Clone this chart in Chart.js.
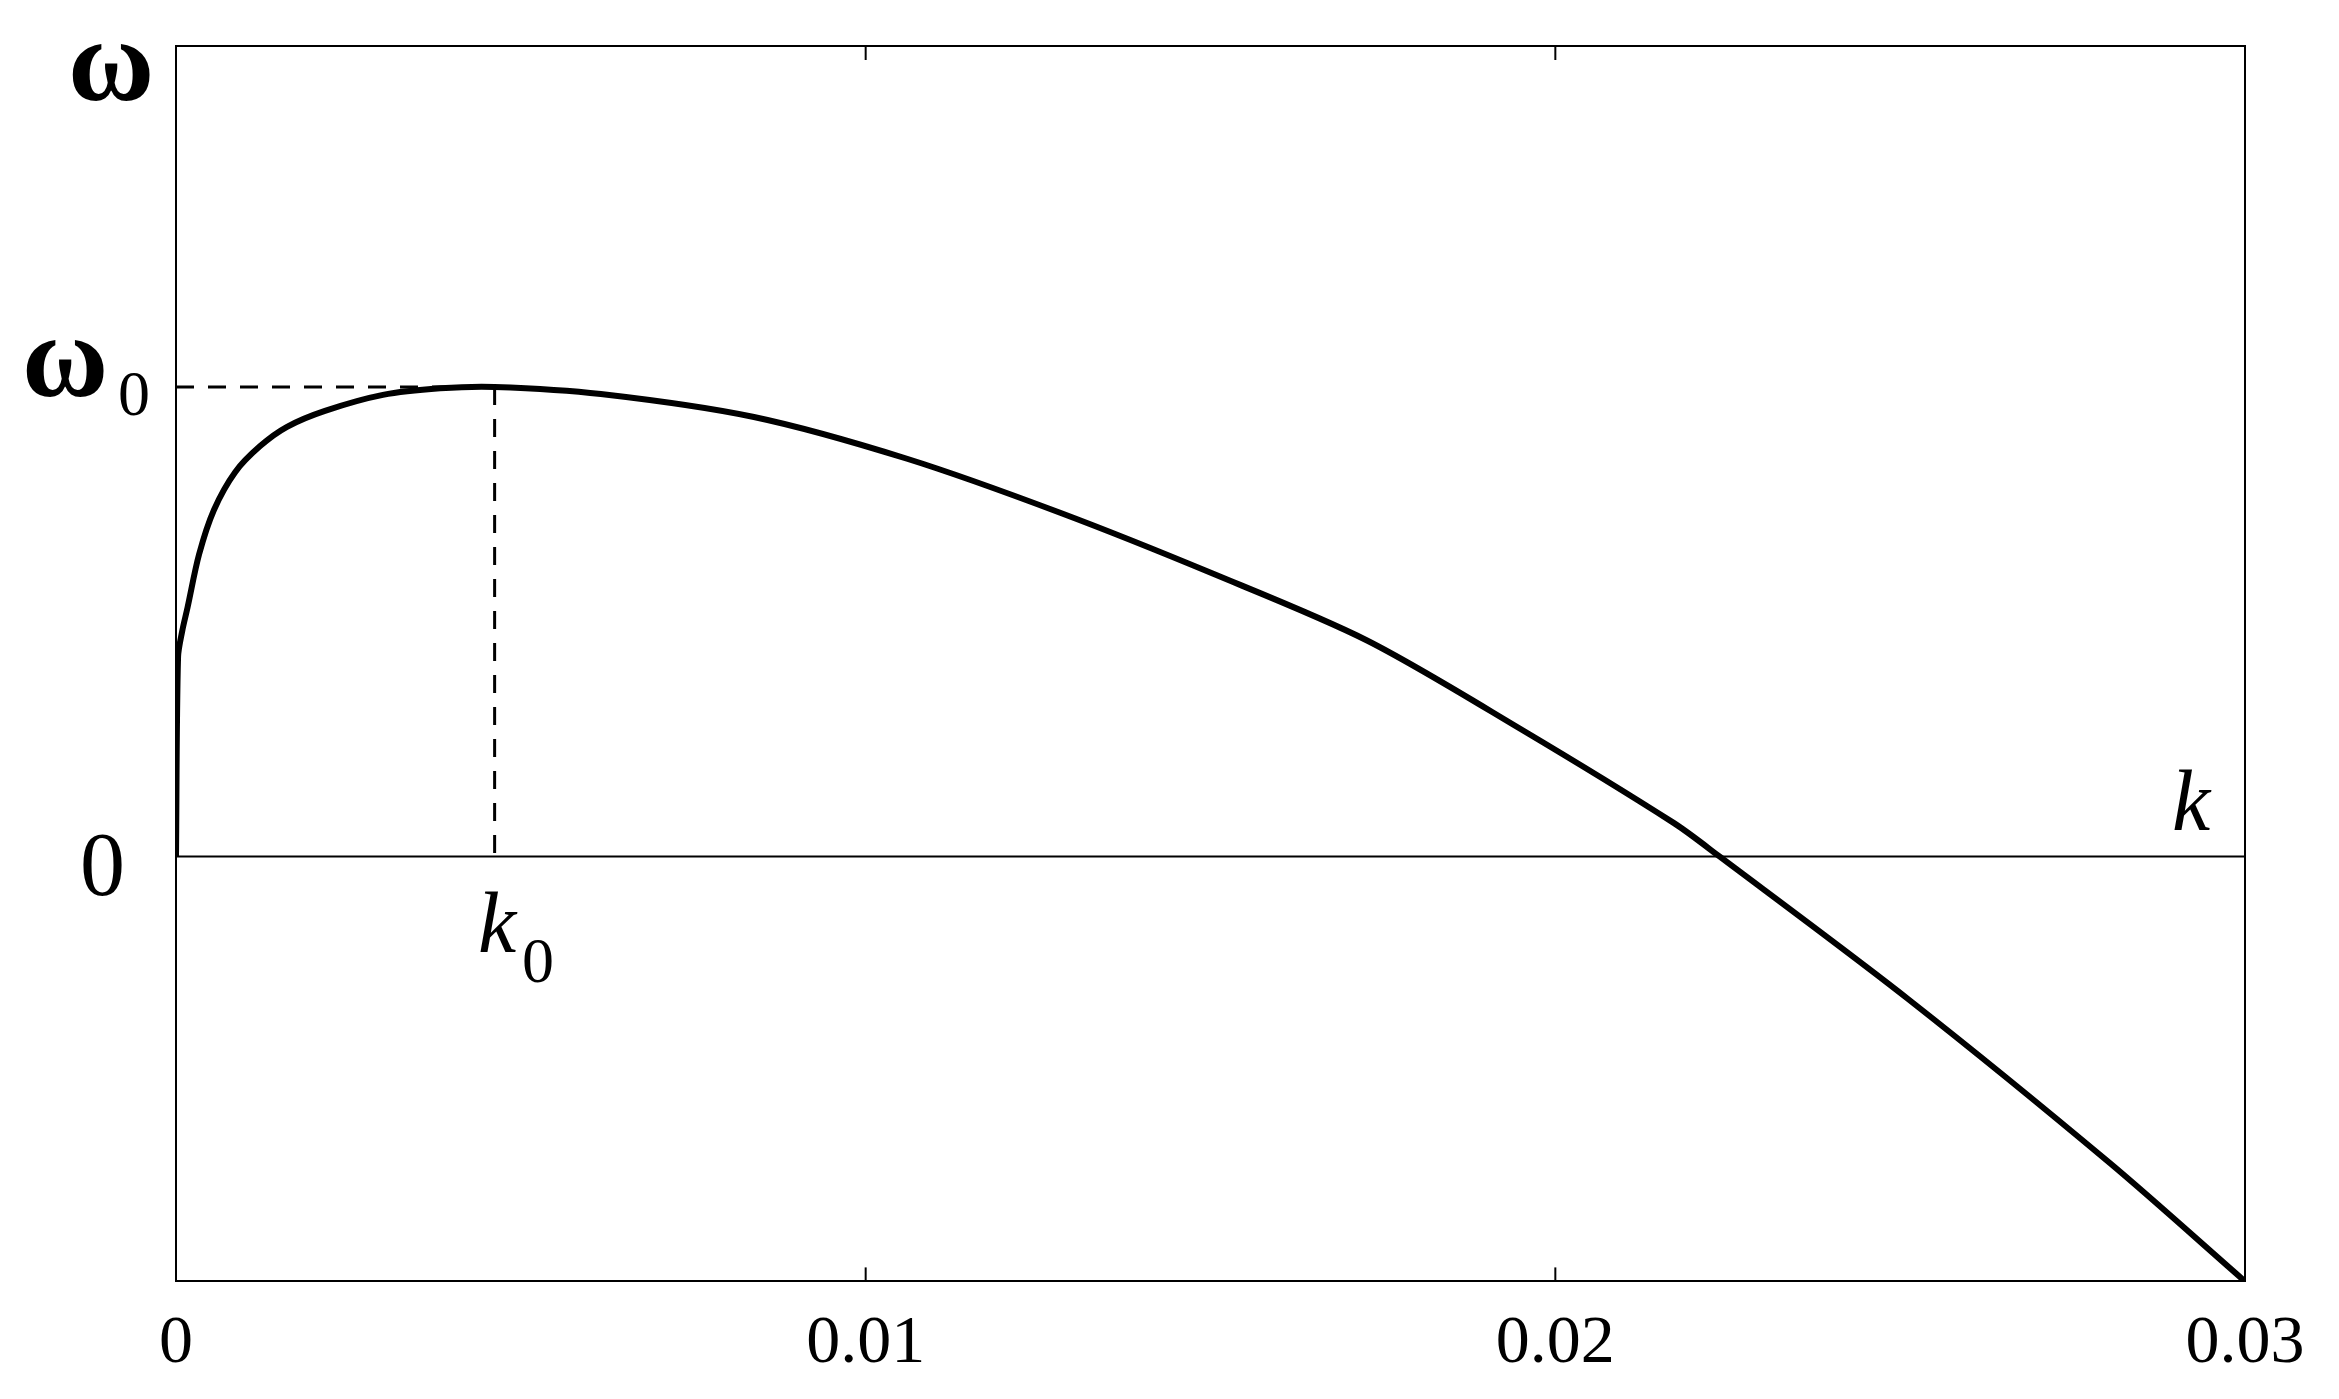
<!DOCTYPE html>
<html><head><meta charset="utf-8">
<script src="https://cdn.jsdelivr.net/npm/chart.js@4/dist/chart.umd.min.js"></script>
<style>html,body{margin:0;padding:0;background:#fff;}#w{position:relative;width:2339px;height:1399px;}</style>
</head><body><div id="w"><canvas id="c" width="2339" height="1399"></canvas></div>
<script>
const kValues = [0, 0.00003, 0.00009, 0.000167, 0.000334, 0.00055, 0.00086, 0.00122, 0.00161, 0.00216, 0.003, 0.00383, 0.00462, 0.00616, 0.00838, 0.0106, 0.01282, 0.01504, 0.01727, 0.01949, 0.02171, 0.02238, 0.0251, 0.02804, 0.03];
const omegaValues = [0, 0.425, 0.48, 0.53, 0.643, 0.738, 0.819, 0.874, 0.915, 0.949, 0.983, 0.997, 1.0, 0.985, 0.936, 0.847, 0.732, 0.602, 0.46, 0.272, 0.072, 0, -0.302, -0.653, -0.905];
const xTicks = [0, 0.01, 0.02, 0.03];
const xTickLabels = ['0', '0.01', '0.02', '0.03'];
const k0 = 0.00462, omega0 = 1.0;

const serif = '"Liberation Serif", "DejaVu Serif", serif';
const overlay = {
  id: 'overlay',
  afterDraw(chart) {
    const {ctx, scales: {x, y}, chartArea: a} = chart;
    ctx.save();
    ctx.strokeStyle = '#000';
    ctx.lineWidth = 2;
    ctx.beginPath(); ctx.moveTo(a.left, y.getPixelForValue(0)); ctx.lineTo(a.right, y.getPixelForValue(0)); ctx.stroke();
    // inward ticks on top and bottom
    xTicks.forEach(v => {
      const px = x.getPixelForValue(v);
      ctx.beginPath(); ctx.moveTo(px, a.top); ctx.lineTo(px, a.top + 14); ctx.stroke();
      ctx.beginPath(); ctx.moveTo(px, a.bottom); ctx.lineTo(px, a.bottom - 14); ctx.stroke();
    });
    ctx.lineWidth = 3; ctx.setLineDash([18, 14]);
    ctx.beginPath(); ctx.moveTo(a.left, y.getPixelForValue(omega0)); ctx.lineTo(x.getPixelForValue(k0), y.getPixelForValue(omega0)); ctx.stroke();
    ctx.beginPath(); ctx.moveTo(x.getPixelForValue(k0), y.getPixelForValue(omega0)); ctx.lineTo(x.getPixelForValue(k0), y.getPixelForValue(0)); ctx.stroke();
    ctx.setLineDash([]);
    ctx.fillStyle = '#000'; ctx.textBaseline = 'alphabetic'; ctx.textAlign = 'left';
    ctx.font = 'bold 118px ' + serif;
    ctx.fillText('ω', 68, 100);
    ctx.fillText('ω', 22, 396);
    ctx.font = '64px ' + serif; ctx.fillText('0', 118, 415);
    ctx.font = '90px ' + serif; ctx.fillText('0', 80, 895);
    ctx.font = 'italic 86px ' + serif; ctx.fillText('k', 2172, 830);
    ctx.fillText('k', 478, 952);
    ctx.font = '64px ' + serif; ctx.fillText('0', 522, 982);
    ctx.restore();
  }
};

new Chart(document.getElementById('c'), {
  type: 'line',
  data: { datasets: [{ data: kValues.map((k, i) => ({x: k, y: omegaValues[i]})), borderColor: '#000', borderWidth: 6, pointRadius: 0, tension: 0.3, fill: false }] },
  options: {
    responsive: false, animation: false, devicePixelRatio: 1,
    layout: { padding: { left: 168, top: 38, right: 86, bottom: 0 } },
    plugins: { legend: { display: false }, tooltip: { enabled: false } },
    scales: {
      x: { type: 'linear', min: 0, max: 0.03, border: { color: '#000', width: 2 },
        grid: { display: false },
        afterBuildTicks: s => { s.ticks = xTicks.map(v => ({value: v})); },
        ticks: { color: '#000', font: { family: serif, size: 68 }, padding: 14, maxRotation: 0, callback: (v) => xTickLabels[xTicks.indexOf(v)] } },
      x2: { type: 'linear', position: 'top', min: 0, max: 0.03, border: { color: '#000', width: 2 },
        grid: { display: false }, ticks: { display: false } },
      y: { min: -0.905, max: 1.726, border: { color: '#000', width: 2 }, grid: { display: false }, ticks: { display: false } },
      y2: { position: 'right', min: -0.905, max: 1.726, border: { color: '#000', width: 2 }, grid: { display: false }, ticks: { display: false } }
    }
  },
  plugins: [overlay]
});
</script></body></html>
